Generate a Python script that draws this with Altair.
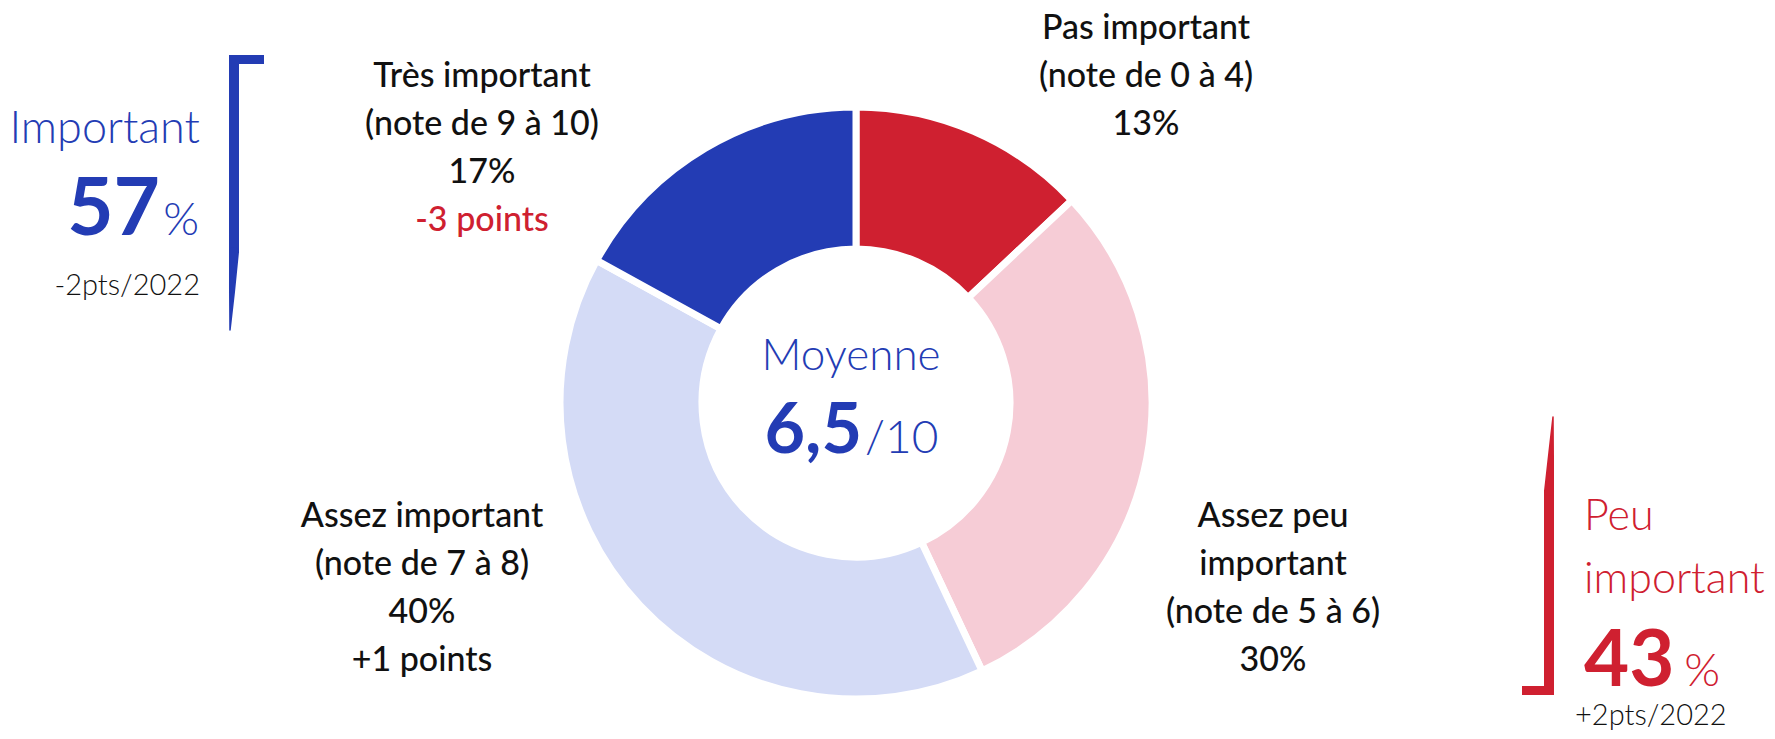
import altair as alt
import pandas as pd

# ---------------- data ----------------
categories = ["Pas important", "Assez peu important", "Assez important", "Très important"]
label_lines = [["Pas important"], ["Assez peu", "important"], ["Assez important"], ["Très important"]]
notes = ["(note de 0 à 4)", "(note de 5 à 6)", "(note de 7 à 8)", "(note de 9 à 10)"]
values = [13, 30, 40, 17]
changes = ["", "", "+1 points", "-3 points"]
colors = ["#CF2030", "#F6CCD6", "#D4DBF6", "#233CB4"]

group_labels = ["Important", "Peu", "important"]
group_values = [57, 43]
group_changes = ["-2pts/2022", "+2pts/2022"]
mean_title = "Moyenne"
mean_value = "6,5"
mean_scale = "/10"

BLUE = "#233CB4"
RED = "#CF2030"
BLACK = "#111111"
FONT = "Lato"

# ---------------- layout (page pixels) ----------------
OFF = 8  # page margin
CX, CY = 856, 403
R_OUT, R_IN = 296, 154


def px(v):
    return v - OFF


def txt(t, x, y, size, color=BLACK, weight="normal", align="center", baseline="alphabetic"):
    return alt.Chart(alt.Data(values=[{"t": t}])).mark_text(
        font=FONT, fontSize=size, fontWeight=weight, color=color,
        align=align, baseline=baseline,
    ).encode(text="t:N", x=alt.value(px(x)), y=alt.value(px(y)))


# donut
df = pd.DataFrame({"category": categories, "value": values, "order": list(range(len(values)))})
arc = alt.Chart(df).mark_arc(
    innerRadius=R_IN, outerRadius=R_OUT, stroke="white", strokeWidth=7
).encode(
    theta=alt.Theta("value:Q", stack=True),
    color=alt.Color("category:N", scale=alt.Scale(domain=categories, range=colors), legend=None),
    order=alt.Order("order:Q"),
    x=alt.value(px(CX)),
    y=alt.value(px(CY)),
)

layers = [arc]

LS = 48
LSIZE = 34
# label blocks: (center x, first baseline)
label_pos = [(1146, 39), (1273, 527), (422, 527), (482, 87)]
for i in range(len(categories)):
    x, y0 = label_pos[i]
    lines = label_lines[i] + [notes[i], f"{values[i]}%"]
    for j, ln in enumerate(lines):
        layers.append(txt(ln, x, y0 + j * LS, LSIZE, weight=500))
    if changes[i]:
        col = RED if changes[i].startswith("-") else BLACK
        layers.append(txt(changes[i], x, y0 + len(lines) * LS, LSIZE, color=col, weight=500))

# center
layers.append(txt(mean_title, 851, 370, 44, color=BLUE, weight=300))
layers.append(txt(mean_value, 862, 453, 70, color=BLUE, weight="bold", align="right"))
layers.append(txt(mean_scale, 865, 453, 46, color=BLUE, weight=300, align="left"))

# left group
layers.append(txt(group_labels[0], 200, 143, 45, color=BLUE, weight=300, align="right"))
layers.append(txt(str(group_values[0]), 160, 235, 80, color=BLUE, weight="bold", align="right"))
layers.append(txt("%", 199, 235, 46, color=BLUE, weight=300, align="right"))
layers.append(txt(group_changes[0], 200, 295, 29, color=BLACK, weight=300, align="right"))

# right group
layers.append(txt(group_labels[1], 1584, 530, 43, color=RED, weight=300, align="left"))
layers.append(txt(group_labels[2], 1584, 593, 43, color=RED, weight=300, align="left"))
layers.append(txt(str(group_values[1]), 1584, 686, 78, color=RED, weight="bold", align="left"))
layers.append(txt("%", 1720, 686, 46, color=RED, weight=300, align="right"))
layers.append(txt(group_changes[1], 1575, 725, 29, color=BLACK, weight=300, align="left"))


# brackets (decorations): straight parts as rects, tapered ends as trails
def rect(x1, x2, y1, y2, c):
    return alt.Chart(alt.Data(values=[{}])).mark_rect(color=c).encode(
        x=alt.value(px(x1)), x2=alt.value(px(x2)), y=alt.value(px(y1)), y2=alt.value(px(y2))
    )


def trail(xs, ys, ws, c):
    d = pd.DataFrame({"i": list(range(len(xs))), "x": [px(v) for v in xs],
                      "y": [px(v) for v in ys], "w": ws})
    return alt.Chart(d).mark_trail(color=c).encode(
        x=alt.X("x:Q", scale=None), y=alt.Y("y:Q", scale=None),
        size=alt.Size("w:Q", scale=None, legend=None), order=alt.Order("i:Q"),
    )


layers += [
    rect(229, 264, 55, 64, BLUE),
    rect(229, 239, 55, 253, BLUE),
    trail([234, 232, 230], [252, 292, 330], [10, 6, 1.5], BLUE),
    rect(1522, 1554, 686, 695, RED),
    rect(1544, 1554, 490, 695, RED),
    trail([1553, 1551, 1549], [417, 455, 491], [1.5, 6, 10], RED),
]

chart = alt.layer(*layers).properties(
    width=1759, height=723, padding=0, autosize=alt.AutoSizeParams(type="none"), background="white"
).configure_view(stroke=None)

chart.save("out.html", embed_options={"renderer": "svg", "actions": False})
